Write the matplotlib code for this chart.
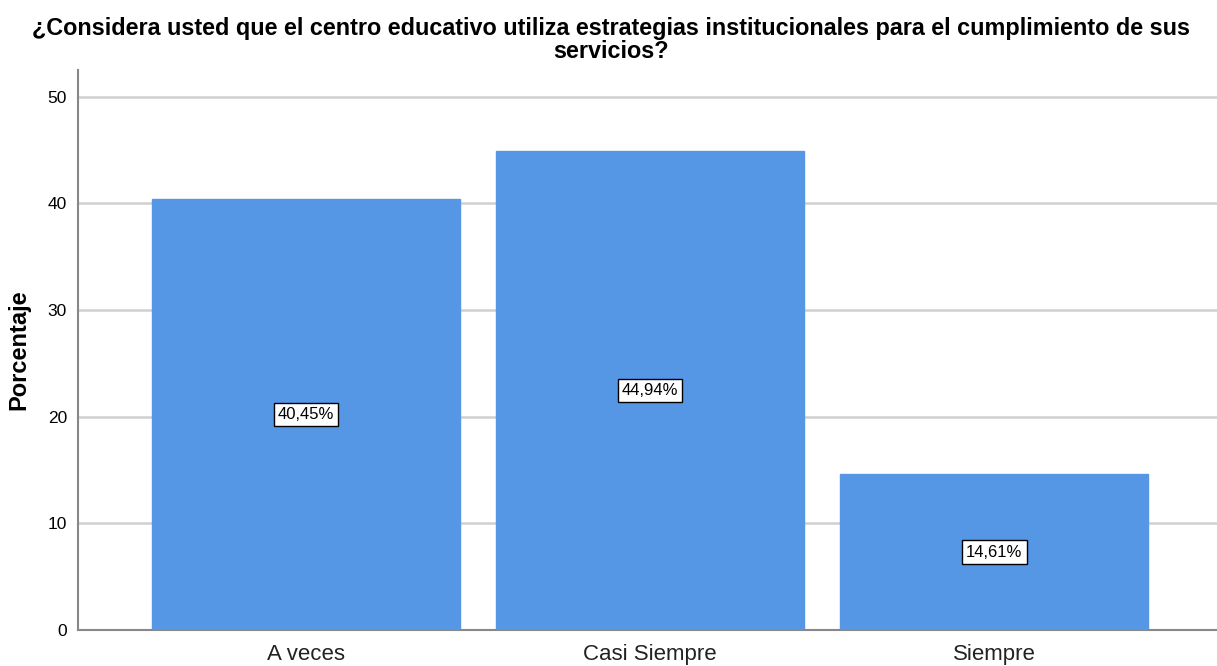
import matplotlib.pyplot as plt

categorias = ["A veces", "Casi Siempre", "Siempre"]
porcentajes = [40.45, 44.94, 14.61]
etiquetas = ["40,45%", "44,94%", "14,61%"]

plt.rcParams['font.family'] = ['Liberation Sans', 'DejaVu Sans']

fig = plt.figure(figsize=(12.17, 6.66), dpi=100)
ax = fig.add_axes([78 / 1217, 36 / 666, 1 - 78 / 1217, (630 - 70) / 666])

x = list(range(len(categorias)))
ax.bar(x, porcentajes, width=0.894, color="#5596E5", edgecolor="#5596E5", zorder=3)

for xi, v, t in zip(x, porcentajes, etiquetas):
    ax.text(xi, v / 2, t, ha="center", va="center", fontsize=12, zorder=4,
            bbox=dict(boxstyle="square,pad=0.25", fc="white", ec="black", lw=1))

ax.set_xlim(-0.662, 2.647)
ax.set_ylim(0, 52.5)
ax.set_yticks([0, 10, 20, 30, 40, 50])
ax.set_xticks(x)
ax.set_xticklabels(categorias, fontsize=16, color="#222222")
ax.tick_params(axis="y", labelsize=12.5, length=0, pad=8)
ax.tick_params(axis="x", length=0, pad=10)
ax.yaxis.grid(True, color="#D0D0D0", lw=1.8, zorder=0)

for s in ["top", "right"]:
    ax.spines[s].set_visible(False)
ax.spines["left"].set_color("#888888")
ax.spines["bottom"].set_color("#888888")
ax.spines["left"].set_linewidth(1.5)
ax.spines["bottom"].set_linewidth(1.5)

ax.set_ylabel("Porcentaje", fontsize=17, fontweight="bold", labelpad=12)
fig.suptitle("¿Considera usted que el centro educativo utiliza estrategias institucionales para el cumplimiento de sus\nservicios?",
             x=0.502, y=0.975, fontsize=16.8, fontweight="bold", linespacing=1.0)

fig.savefig("out.png", dpi=100)
